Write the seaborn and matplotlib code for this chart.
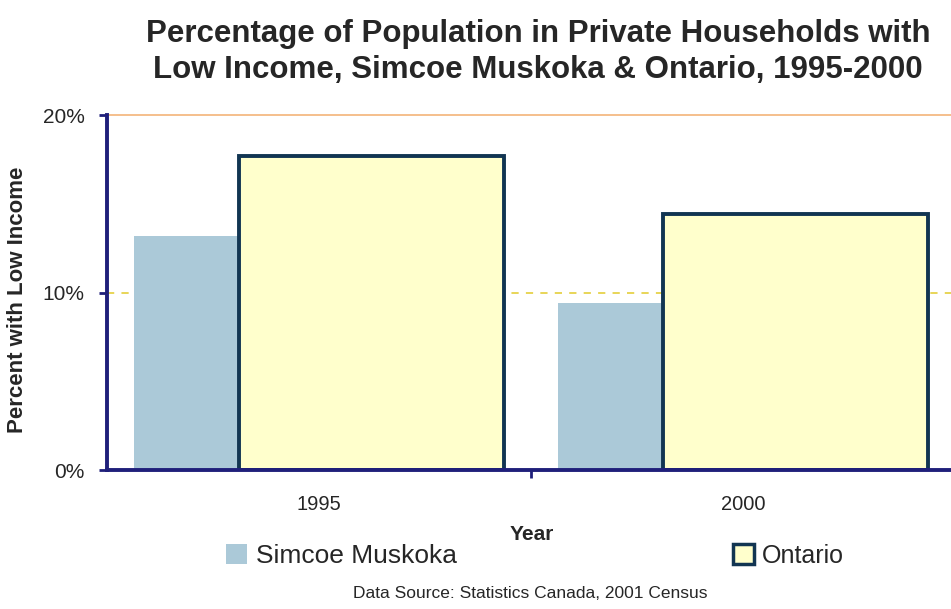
import numpy as np
import pandas as pd
import seaborn as sns
import matplotlib.pyplot as plt
from matplotlib.patches import Patch

# data
years = ['1995', '2000']
simcoe = [13.2, 9.4]
ontario = [17.7, 14.4]
yticks = [0, 10, 20]
ytick_labels = ['0%', '10%', '20%']

sns.set_style('white')
plt.rcParams['font.family'] = ['Liberation Sans', 'DejaVu Sans']

pos = np.arange(len(years))
shift = 0.123
df_s = pd.DataFrame({'x': pos - shift, 'y': simcoe})
df_o = pd.DataFrame({'x': pos + shift, 'y': ontario})

fig = plt.figure(figsize=(9.51, 6.09), dpi=100)
ax = fig.add_axes([107 / 951, 139 / 609, 848 / 951, 355 / 609])

# gridlines behind the bars
ax.axhline(20, color='#f5bf8c', lw=1.4, zorder=0, clip_on=False)
ax.axhline(10, color='#e6d24a', lw=1.3, ls=(0, (4, 4)), zorder=0)

sns.barplot(data=df_s, x='x', y='y', native_scale=True, width=0.625,
            color='#abc9d8', saturation=1, edgecolor='none', ax=ax, zorder=2)
sns.barplot(data=df_o, x='x', y='y', native_scale=True, width=0.625,
            color='#ffffcc', saturation=1, edgecolor='#123552', linewidth=2.8,
            ax=ax, zorder=3)

ax.set_xlim(-0.5, 1.5)
ax.set_ylim(0, 20)
ax.set_xticks(pos)
ax.set_xticklabels(years, fontsize=14.5)
ax.set_xticks([0.5], minor=True)
ax.tick_params(axis='x', which='major', length=0, pad=18)
ax.tick_params(axis='x', which='minor', length=6, width=2, color='#1f1f7a',
               direction='out', bottom=True)
ax.set_yticks(yticks)
ax.set_yticklabels(ytick_labels, fontsize=15)
ax.tick_params(axis='y', length=6, width=2, color='#1f1f7a', direction='out',
               left=True, pad=10)
ax.set_xlabel('')
ax.set_ylabel('')

for side in ['top', 'right']:
    ax.spines[side].set_visible(False)
for side in ['left', 'bottom']:
    ax.spines[side].set_color('#1f1f7a')
    ax.spines[side].set_linewidth(2.8)
    ax.spines[side].set_zorder(4)

fig.text(538 / 951, 1 - 52 / 609,
         'Percentage of Population in Private Households with\n'
         'Low Income, Simcoe Muskoka & Ontario, 1995-2000',
         ha='center', va='center', fontsize=22.5, fontweight='bold',
         linespacing=1.25)
fig.text(18 / 951, 1 - 300 / 609, 'Percent with Low Income', rotation=90,
         ha='center', va='center', fontsize=16, fontweight='bold')
fig.text(532 / 951, 1 - 534 / 609, 'Year', ha='center', va='center',
         fontsize=15, fontweight='bold')
fig.text(530 / 951, 1 - 593 / 609, 'Data Source: Statistics Canada, 2001 Census',
         ha='center', va='center', fontsize=12.5)

# legend entries placed like the original
h1 = Patch(facecolor='#abc9d8', edgecolor='none')
h2 = Patch(facecolor='#ffffcc', edgecolor='#123552', linewidth=2.5)
fig.legend([h1], ['Simcoe Muskoka'], loc='center left',
           bbox_to_anchor=(226 / 951, 1 - 556 / 609), frameon=False,
           fontsize=19, handlelength=0.8, handleheight=0.8, handletextpad=0.35,
           borderaxespad=0, borderpad=0)
fig.legend([h2], ['Ontario'], loc='center left',
           bbox_to_anchor=(733 / 951, 1 - 556 / 609), frameon=False,
           fontsize=18, handlelength=0.85, handleheight=0.85, handletextpad=0.3,
           borderaxespad=0, borderpad=0)

fig.savefig('out.png', dpi=100)
